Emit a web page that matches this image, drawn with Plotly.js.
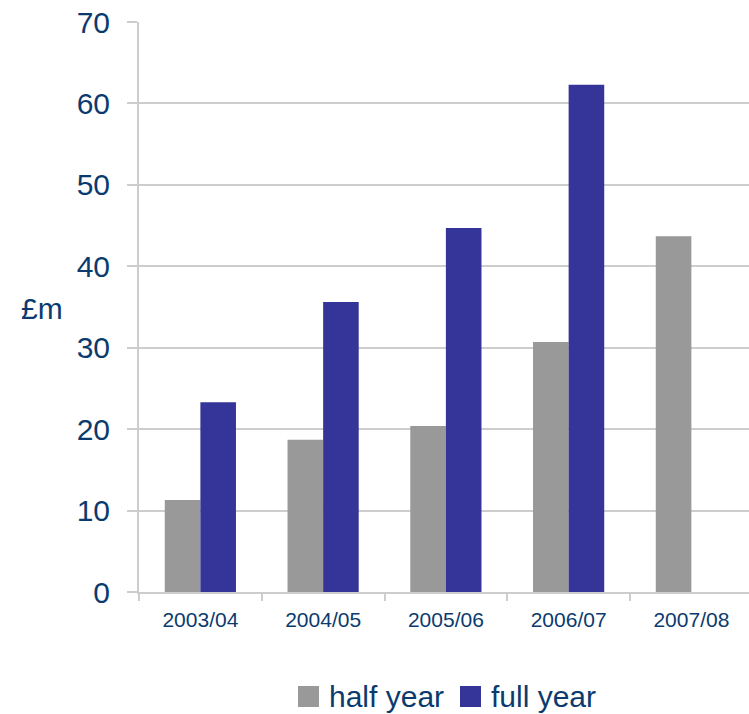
<!DOCTYPE html>
<html>
<head>
<meta charset="utf-8">
<script src="https://cdn.plot.ly/plotly-3.0.1.min.js"></script>
<style>
  html, body { margin: 0; padding: 0; background: #ffffff; }
  #chart { width: 749px; height: 714px; }
</style>
</head>
<body>
<div id="chart"></div>
<script>
// Financial years shown along the category axis
const years = ["2003/04", "2004/05", "2005/06", "2006/07", "2007/08"];

// Values in £m
const halfYear = [11.3, 18.7, 20.4, 30.7, 43.7];
const fullYear = [23.3, 35.6, 44.7, 62.3, null];

const seriesNames = ["half year", "full year"];
const seriesColors = ["#999999", "#353599"];

const yTicks = [0, 10, 20, 30, 40, 50, 60, 70];

const textColor = "#0b3b6e";
const gridColor = "#cdcdcd";
const fontFamily = "'Liberation Sans', Arial, sans-serif";

const traces = [
  {
    type: "bar",
    name: seriesNames[0],
    x: years,
    y: halfYear,
    marker: { color: seriesColors[0], line: { width: 0 } },
    showlegend: false,
    hoverinfo: "x+y+name"
  },
  {
    type: "bar",
    name: seriesNames[1],
    x: years,
    y: fullYear,
    marker: { color: seriesColors[1], line: { width: 0 } },
    showlegend: false,
    hoverinfo: "x+y+name"
  }
];

// Legend drawn underneath the plot: a large colour swatch then the label
const legendItems = [
  { x0: 159, label: seriesNames[0], color: seriesColors[0] },
  { x0: 321, label: seriesNames[1], color: seriesColors[1] }
];
const plotLeft = 139, plotWidth = 610, plotHeight = 570;
const px = v => v / plotWidth;    // pixel offset -> paper x
const py = v => v / plotHeight;   // pixel offset -> paper y

const shapes = [];
const annotations = [];
legendItems.forEach(item => {
  const cy = (592 - 696.5) / plotHeight;   // centre of the legend row, paper units
  shapes.push({
    type: "rect", xref: "paper", yref: "paper",
    x0: px(item.x0), x1: px(item.x0 + 21),
    y0: cy - py(10.5), y1: cy + py(10.5),
    fillcolor: item.color, line: { width: 0 }
  });
  annotations.push({
    xref: "paper", yref: "paper",
    x: px(item.x0 + 29), y: cy,
    xanchor: "left", yanchor: "middle",
    text: item.label, showarrow: false,
    font: { family: fontFamily, size: 30, color: textColor }
  });
});

// Horizontal unit label beside the value axis
annotations.push({
  xref: "paper", yref: "paper",
  x: px(42 - plotLeft), y: (592 - 308) / plotHeight,
  xanchor: "center", yanchor: "middle",
  text: "£m", showarrow: false,
  font: { family: fontFamily, size: 30, color: textColor }
});

const layout = {
  width: 749,
  height: 714,
  margin: { l: 139, r: 0, t: 22, b: 122, pad: 0 },
  paper_bgcolor: "#ffffff",
  plot_bgcolor: "#ffffff",
  barmode: "group",
  bargap: 0.42,
  bargroupgap: 0,
  font: { family: fontFamily, color: textColor },
  showlegend: false,
  xaxis: {
    type: "category",
    range: [-0.5, -0.5 + 610 / 122.75],
    showline: true,
    linecolor: gridColor,
    linewidth: 2,
    ticks: "outside",
    tickson: "boundaries",
    ticklen: 7,
    tickwidth: 2,
    tickcolor: gridColor,
    showgrid: false,
    zeroline: false,
    tickfont: { family: fontFamily, size: 21, color: textColor },
    ticklabelstandoff: 8
  },
  yaxis: {
    range: [0, 70],
    tickvals: yTicks,
    ticktext: yTicks.map(String),
    showline: true,
    linecolor: gridColor,
    linewidth: 2,
    ticks: "outside",
    ticklen: 10,
    tickwidth: 2,
    tickcolor: gridColor,
    showgrid: true,
    gridcolor: gridColor,
    gridwidth: 2,
    zeroline: false,
    tickfont: { family: fontFamily, size: 30, color: textColor },
    ticklabelstandoff: 11
  },
  shapes: shapes,
  annotations: annotations
};

Plotly.newPlot("chart", traces, layout, { displayModeBar: false, staticPlot: true });
</script>
</body>
</html>
